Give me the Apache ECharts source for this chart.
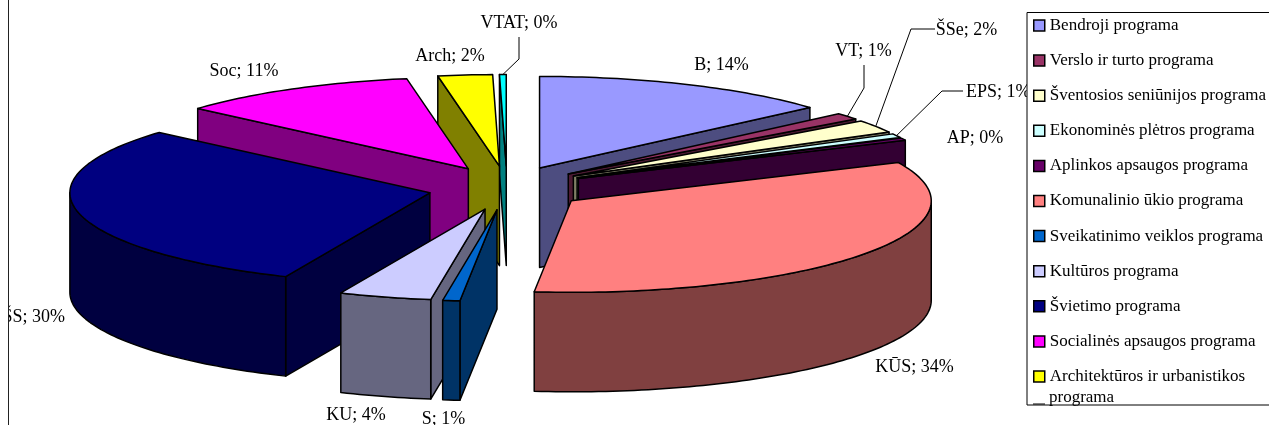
<!DOCTYPE html>
<html>
<head>
<meta charset="utf-8">
<script src="https://cdn.jsdelivr.net/npm/echarts@6/dist/echarts.min.js"></script>
<style>html,body{margin:0;padding:0;background:#fff}#c{width:1269px;height:425px}</style>
</head>
<body>
<div id="c"></div>
<script>
// Data (clockwise from 12 o'clock)
const shortNames = ['B','VT','ŠSe','EPS','AP','KŪS','S','KU','ŠS','Soc','Arch','VTAT'];
const programmes = ['Bendroji programa','Verslo ir turto programa','Šventosios seniūnijos programa','Ekonominės plėtros programa','Aplinkos apsaugos programa','Komunalinio ūkio programa','Sveikatinimo veiklos programa','Kultūros programa','Švietimo programa','Socialinės apsaugos programa','Architektūros ir urbanistikos programa','VTAT'];
const shares = [13.52,1.2,2.3,0.7,0.41,33.51,0.77,4.15,29.9,10.8,2.44,0.3];
const topColors = ['#9999FF','#993366','#FFFFCC','#CCFFFF','#660066','#FF8080','#0066CC','#CCCCFF','#000080','#FF00FF','#FFFF00','#00FFFF'];
const wallColors = ['#4D4D80','#4D1A33','#808066','#668080','#330033','#804040','#003366','#666680','#000040','#800080','#808000','#008080'];

// Layout of the pseudo-3D pie
const PIE = {cx:507, cy:188, rx:360, ry:91.5, depth:99.5, ex:79, ey:22};
// Label anchors: [x, y, align]; leaders: elbow points, from the label to the slice rim
const labelPos = [[721.5,65,'center'],[863.5,51,'center'],[966.5,30,'center'],[966,92,'left'],[975,138,'center'],[914.5,367,'center'],[443.5,419,'center'],[356,415,'center'],[65,317,'right'],[244,71,'center'],[450,56,'center'],[519,23,'center']];
const leaders = {1:[[864,65],[864,88]],2:[[935,29],[911,29]],3:[[963,91],[942,91]],11:[[519,37],[519,59]]};

const LINE = {stroke:'#000',lineWidth:1.5,lineJoin:'round'};
const total = shares.reduce((a,b)=>a+b,0);
let cum = 0;
const slices = shares.map((v,i)=>{
  const a0 = cum/total*2*Math.PI; cum += v;
  const a1 = cum/total*2*Math.PI;
  const mid = (a0+a1)/2;
  return {i,a0,a1,mid,ax:PIE.cx+PIE.ex*Math.sin(mid),ay:PIE.cy-PIE.ey*Math.cos(mid)};
});
const rim = (s,a,dz)=>[s.ax+PIE.rx*Math.sin(a), s.ay-PIE.ry*Math.cos(a)+(dz||0)];
const arc = (s,a,b,dz)=>{
  const n = Math.max(2,Math.ceil((b-a)/0.02)), p=[];
  for(let k=0;k<=n;k++) p.push(rim(s,a+(b-a)*k/n,dz));
  return p;
};
const poly = (points,fill)=>({type:'polygon',shape:{points},style:Object.assign({fill},LINE)});

function sliceItem(s){
  return function(){
    const d = PIE.depth, wall = wallColors[s.i], kids = [];
    const radial = a=>{
      const e = rim(s,a);
      kids.push(poly([[s.ax,s.ay],e,[e[0],e[1]+d],[s.ax,s.ay+d]],wall));
    };
    if(Math.sin(s.a0)<0) radial(s.a0);
    if(Math.sin(s.a1)>0) radial(s.a1);
    const f0 = Math.max(s.a0,Math.PI/2), f1 = Math.min(s.a1,1.5*Math.PI);
    if(f1>f0) kids.push(poly(arc(s,f0,f1,0).concat(arc(s,f0,f1,d).reverse()),wall));
    kids.push(poly([[s.ax,s.ay]].concat(arc(s,s.a0,s.a1,0)),topColors[s.i]));
    return {type:'group',children:kids};
  };
}
const order = slices.slice().sort((p,q)=>Math.cos(q.mid)-Math.cos(p.mid));
const series = order.map(s=>({
  type:'custom',name:programmes[s.i],coordinateSystem:'none',z:2,silent:true,
  itemStyle:{color:topColors[s.i]},data:[shares[s.i]],renderItem:sliceItem(s)
}));
series.push({
  type:'custom',name:'labels',coordinateSystem:'none',z:3,silent:true,data:[0],
  renderItem(){
    const kids = [];
    slices.forEach(s=>{
      const p = labelPos[s.i];
      if(leaders[s.i]){
        const pts = leaders[s.i].concat([rim(s,s.mid)]);
        kids.push({type:'polyline',shape:{points:pts},style:{stroke:'#000',lineWidth:1,fill:null}});
      }
      kids.push({type:'text',x:p[0],y:p[1],style:{
        text:shortNames[s.i]+'; '+Math.round(shares[s.i]/total*100)+'%',
        font:'18px "Liberation Serif"',fill:'#000',align:p[2],verticalAlign:'middle'}});
    });
    return {type:'group',children:kids};
  }
});

const chart = echarts.init(document.getElementById('c'),null,{renderer:'canvas'});
chart.setOption({
  animation:false,
  backgroundColor:'#fff',
  legend:{
    orient:'vertical',left:1033,top:17,padding:0,itemGap:18.1,itemWidth:11,itemHeight:11,icon:'rect',
    selectedMode:false,z:6,
    data:programmes.slice(0,11),
    itemStyle:{borderColor:'#000',borderWidth:1.5},
    textStyle:{fontFamily:'"Liberation Serif"',fontSize:17,color:'#000',lineHeight:17},
    formatter:n=>n.replace(' ir urbanistikos programa',' ir urbanistikos')
  },
  graphic:[
    {type:'rect',z:4,shape:{x:1027,y:12.5,width:250,height:392.5},style:{fill:'#fff',stroke:'#000',lineWidth:1}},
    {type:'text',z:7,x:1049,y:397.5,style:{text:'programa',font:'17px "Liberation Serif"',fill:'#000',verticalAlign:'middle'}},
    {type:'line',z:5,shape:{x1:1033,y1:404,x2:1045,y2:404},style:{stroke:'#000',lineWidth:1}},
    {type:'rect',z:4,shape:{x:0,y:0,width:8.5,height:425},style:{fill:'#fff'}},
    {type:'line',z:5,shape:{x1:8.5,y1:0,x2:8.5,y2:425},style:{stroke:'#222',lineWidth:1}}
  ],
  series
});
</script>
</body>
</html>
